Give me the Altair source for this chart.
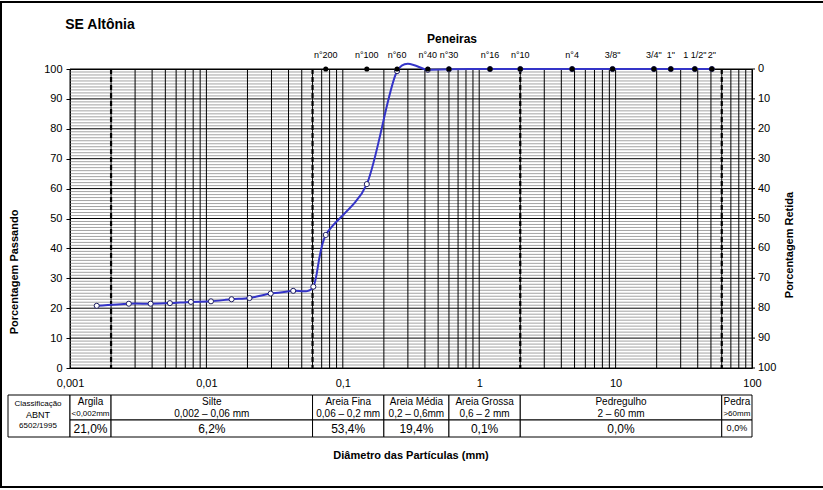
import altair as alt
import pandas as pd

# ---------------- data ----------------
chart_title = "SE Altônia"
diam_mm = [0.00157, 0.0027, 0.0039, 0.0054, 0.0077, 0.0108, 0.0153, 0.0207, 0.0296,
           0.0433, 0.0608, 0.075, 0.15, 0.25, 0.42, 0.6, 1.2, 2.0, 4.8, 9.5, 19.1,
           25.4, 38.1, 50.8]
passing_pct = [20.8, 21.5, 21.5, 21.7, 22.1, 22.3, 23.0, 23.4, 24.9, 25.8, 27.2,
               44.5, 61.5, 99.3, 99.7, 99.9, 100, 100, 100, 100, 100, 100, 100, 100]

sieve_labels = ["n°200", "n°100", "n°60", "n°40", "n°30", "n°16", "n°10", "n°4",
                '3/8"', '3/4"', '1"', '1 1/2"', '2"']
sieve_mm = [0.075, 0.15, 0.25, 0.42, 0.6, 1.2, 2.0, 4.8, 9.5, 19.1, 25.4, 38.1, 50.8]

class_names = ["Argila", "Silte", "Areia Fina", "Areia Média", "Areia Grossa",
               "Pedregulho", "Pedra"]
class_ranges = ["<0,002mm", "0,002 – 0,06 mm", "0,06 – 0,2 mm", "0,2 – 0,6mm",
                "0,6 – 2 mm", "2 – 60 mm", ">60mm"]
class_pct = ["21,0%", "6,2%", "53,4%", "19,4%", "0,1%", "0,0%", "0,0%"]
class_lo = [0.001, 0.002, 0.06, 0.2, 0.6, 2, 60]
class_hi = [0.002, 0.06, 0.2, 0.6, 2, 60, 100]

x_decades = [0.001, 0.01, 0.1, 1, 10, 100]
limit_lines = [0.002, 0.06, 2, 60]
y_ticks = list(range(0, 101, 10))

FONT = "Liberation Sans"
W, H = 682, 299

# ---------------- frames ----------------
curve_df = pd.DataFrame({"d": diam_mm, "p": passing_pct})
sieve_df = pd.DataFrame({"name": sieve_labels, "d": sieve_mm, "p": [100] * len(sieve_mm)})
cls_df = pd.DataFrame({"name": class_names, "rng": class_ranges, "pct": class_pct,
                       "lo": class_lo, "hi": class_hi})
cls_df["mid"] = (cls_df["lo"] * cls_df["hi"]) ** 0.5
cls_df["small"] = cls_df["rng"].str.startswith(("<", ">"))
cls_df["tiny_pct"] = cls_df["rng"].str.startswith(">")

vgrid = [m * 10 ** k for k in range(-3, 2) for m in range(1, 10)] + [100]
vgrid_df = pd.DataFrame({"d": vgrid})
hminor_df = pd.DataFrame({"p": [v for v in range(1, 100) if v % 10]})
hmajor_df = pd.DataFrame({"p": y_ticks})
limit_df = pd.DataFrame({"d": limit_lines})

xs = alt.Scale(type="log", domain=[0.001, 100])
ys = alt.Scale(domain=[0, 100])

x_axis = alt.Axis(values=x_decades, labelExpr="replace(toString(datum.value), '.', ',')",
                  ticks=False, domain=False, grid=False, labelPadding=9, labelFontSize=11,
                  labelFont=FONT, labelColor="black", labelFlush=False,
                  labelOverlap=False, title=None)
y_axis = alt.Axis(values=y_ticks, grid=False, domain=False, tickSize=4, tickColor="black",
                  labelPadding=4, labelFontSize=11, labelFont=FONT, labelColor="black",
                  labelOverlap=False, labelFlush=False, title=None)


def X(field):
    return alt.X(field, type="quantitative", scale=xs, axis=x_axis)


def Y(field):
    return alt.Y(field, type="quantitative", scale=ys, axis=y_axis)


minor = alt.Chart(hminor_df).mark_rule(color="#a3a3a3", strokeWidth=1).encode(y=Y("p"))
verts = alt.Chart(vgrid_df).mark_rule(color="black", strokeWidth=1).encode(x=X("d"))
major = alt.Chart(hmajor_df).mark_rule(color="black", strokeWidth=1).encode(y=Y("p"))
limits = alt.Chart(limit_df).mark_rule(color="black", strokeWidth=2.2,
                                        strokeDash=[5, 3]).encode(x=X("d"))

curve = alt.Chart(curve_df).mark_line(color="#3434c8", strokeWidth=2,
                                       interpolate="cardinal", tension=0.15).encode(
    x=X("d"), y=Y("p"))
curve_pts = alt.Chart(curve_df).mark_point(shape="circle", filled=True, fill="white",
                                            stroke="#1c1c60", strokeWidth=1, size=26,
                                            opacity=1).encode(x=X("d"), y=Y("p"))
sieve_pts = alt.Chart(sieve_df).mark_circle(color="black", size=26, opacity=1).encode(
    x=X("d"), y=Y("p"))
sieve_txt = alt.Chart(sieve_df).mark_text(fontSize=9, font=FONT, color="black",
                                           baseline="middle").encode(
    x=X("d"), y=alt.value(-14), text="name:N")

# right-hand "Porcentagem Retida" scale: labels are 100 - passing
right_ticks = alt.Chart(hmajor_df).mark_rule(color="black", strokeWidth=1).encode(
    y=Y("p"), x=alt.value(W), x2=alt.value(W + 3))
right_lbl = alt.Chart(hmajor_df).transform_calculate(ret="100 - datum.p").mark_text(
    fontSize=11, font=FONT, color="black", align="left", baseline="middle").encode(
    y=Y("p"), x=alt.value(W + 6), text="ret:Q")

# ---------------- table ----------------
hdr_cells = alt.Chart(cls_df).mark_rect(fill="white", stroke="black", strokeWidth=1).encode(
    x=X("lo"), x2="hi:Q", y=alt.value(326), y2=alt.value(351))
val_cells = alt.Chart(cls_df).mark_rect(fill="white", stroke="black", strokeWidth=1).encode(
    x=X("lo"), x2="hi:Q", y=alt.value(351), y2=alt.value(368))
name_txt = alt.Chart(cls_df).mark_text(fontSize=10, font=FONT, color="black").encode(
    x=X("mid"), y=alt.value(333), text="name:N")
rng_big = alt.Chart(cls_df).transform_filter("!datum.small").mark_text(
    fontSize=10, font=FONT, color="black").encode(
    x=X("mid"), y=alt.value(345), text="rng:N")
rng_small = alt.Chart(cls_df).transform_filter("datum.small").mark_text(
    fontSize=8, font=FONT, color="black").encode(
    x=X("mid"), y=alt.value(345), text="rng:N")
pct_big = alt.Chart(cls_df).transform_filter("!datum.tiny_pct").mark_text(
    fontSize=12, font=FONT, color="black").encode(
    x=X("mid"), y=alt.value(360), text="pct:N")
pct_small = alt.Chart(cls_df).transform_filter("datum.tiny_pct").mark_text(
    fontSize=9, font=FONT, color="black").encode(
    x=X("mid"), y=alt.value(359), text="pct:N")

anno = pd.DataFrame({"k": [0]})
first_cell = alt.Chart(anno).mark_rect(fill="white", stroke="black", strokeWidth=1).encode(
    x=alt.value(-62), x2=alt.value(0), y=alt.value(326), y2=alt.value(368))


def label(text, x, y, size, bold=False, angle=0):
    return alt.Chart(anno).mark_text(text=text, fontSize=size, font=FONT, color="black",
                                     fontWeight="bold" if bold else "normal",
                                     angle=angle, align="center", baseline="middle").encode(
        x=alt.value(x), y=alt.value(y))


texts = [
    label("Classificação", -32, 335, 8),
    label("ABNT", -32, 346, 9),
    label("6502/1995", -32, 357, 8),
    label(chart_title, 30, -44, 14, bold=True),
    label("Peneiras", 382, -30, 12, bold=True),
    label("Diâmetro das Partículas (mm)", 341, 387, 11, bold=True),
    label("Porcentagem Passando", -55, 203, 11, bold=True, angle=270),
    label("Porcentagem Retida", 720, 176, 11, bold=True, angle=270),
]


def hline(x1, x2, y):
    return alt.Chart(anno).mark_rule(color="black", strokeWidth=2).encode(
        x=alt.value(x1), x2=alt.value(x2), y=alt.value(y))


def vline(x, y1, y2):
    return alt.Chart(anno).mark_rule(color="black", strokeWidth=2).encode(
        x=alt.value(x), y=alt.value(y1), y2=alt.value(y2))


frame = [hline(-70, 753, -67), hline(-70, 753, 418), vline(-69, -67, 418)]

chart = alt.layer(*frame, minor, verts, major, limits, curve, curve_pts, sieve_pts,
                  sieve_txt, right_ticks, right_lbl, first_cell, hdr_cells, val_cells,
                  name_txt, rng_big, rng_small, pct_big, pct_small, *texts).properties(
    width=W, height=H,
    autosize=alt.AutoSizeParams(type="none"),
    padding={"left": 70, "top": 69, "right": 71, "bottom": 122},
    background="white",
).configure_view(stroke="black", strokeWidth=1)

chart.save("out.html", embed_options={"renderer": "svg", "actions": False})
